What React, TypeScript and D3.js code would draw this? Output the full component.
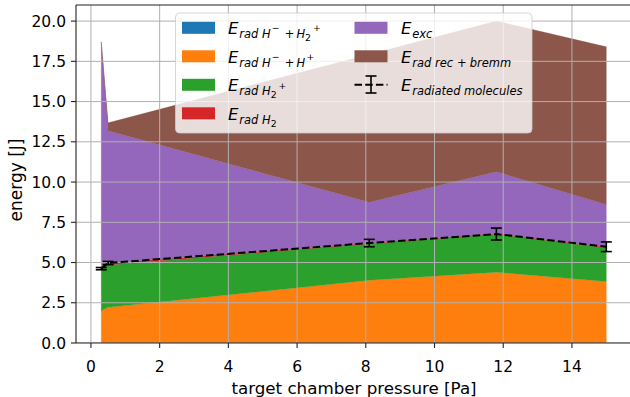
import React from 'react';
import * as d3 from 'd3';

// Target chamber pressure [Pa]
const pressure = [0.3, 0.5, 8.1, 11.8, 15.0];

// Radiated energy contributions [J], stacked bottom to top
const eRadHmH2p = [0, 0, 0, 0, 0];
const eRadHmHp = [2.0, 2.22, 3.9, 4.4, 3.82];
const eRadH2p = [2.58, 2.63, 2.27, 2.37, 2.1];
const eRadH2 = [0.05, 0.1, 0.05, 0.05, 0.05];
const eExc = [14.07, 8.24, 2.52, 3.82, 2.63];
const eRecBremm = [0, 0.49, 9.19, 9.36, 9.8];

// Total energy radiated by molecules with its uncertainty [J]
const radMolMean = [4.62, 4.97, 6.21, 6.77, 5.98];
const radMolErr = [0.07, 0.1, 0.23, 0.37, 0.3];

const xTicks = [0, 2, 4, 6, 8, 10, 12, 14];
const yTicks = [0, 2.5, 5, 7.5, 10, 12.5, 15, 17.5, 20];
const yTickLabels = ['0.0', '2.5', '5.0', '7.5', '10.0', '12.5', '15.0', '17.5', '20.0'];

const seriesKeys = ['hmh2p', 'hmhp', 'h2p', 'h2', 'exc', 'recbremm'];
const seriesColors = ['#1f77b4', '#ff7f0e', '#2ca02c', '#d62728', '#9467bd', '#8c564b'];

const W = 630;
const H = 397;
const plotLeft = 76;
const plotTop = 5;
const plotBottom = 343;
const xMin = -0.435;
const xMax = 15.735;
const pxPerUnit = 34.357;

const FONT = 'DejaVu Sans, sans-serif';

// token: [text, level, upright?, dx?]
// level: 0 main, 1 subscript, 2 superscript of subscript, 3 subscript of subscript
type Tok = [string, number, boolean?, number?];

const levelSize = [16.5, 11.5, 9.3, 9.3];
const levelShift = [0, 4.3, -2.6, 7];

function MathLabel({ x, y, toks }: { x: number; y: number; toks: Tok[] }) {
  let prev = 0;
  return (
    <text x={x} y={y} fontFamily={FONT} fill="#000">
      {toks.map(([t, lvl, upright, dx], i) => {
        const dy = levelShift[lvl] - prev;
        prev = levelShift[lvl];
        return (
          <tspan
            key={i}
            dy={dy}
            dx={dx || 0}
            fontSize={levelSize[lvl]}
            fontStyle={upright ? 'normal' : 'italic'}
            style={{ whiteSpace: 'pre' }}
          >
            {t}
          </tspan>
        );
      })}
    </text>
  );
}

const legendCol1: { color: string; toks: Tok[] }[] = [
  {
    color: seriesColors[0],
    toks: [
      ['E', 0], ['rad H', 1, false, 0.8], ['\u2212', 2, true, 1.2], ['+', 1, true, 5.2],
      ['H', 1, false, 2], ['2', 3, true], ['+', 2, true, 2],
    ],
  },
  {
    color: seriesColors[1],
    toks: [
      ['E', 0], ['rad H', 1, false, 0.8], ['\u2212', 2, true, 1.2], ['+', 1, true, 5.2],
      ['H', 1, false, 2], ['+', 2, true, 1.5],
    ],
  },
  {
    color: seriesColors[2],
    toks: [['E', 0], ['rad H', 1, false, 0.8], ['2', 3, true], ['+', 2, true, 2]],
  },
  {
    color: seriesColors[3],
    toks: [['E', 0], ['rad H', 1, false, 0.8], ['2', 3, true]],
  },
];

const legendCol2: { color: string; toks: Tok[] }[] = [
  { color: seriesColors[4], toks: [['E', 0], ['exc', 1, false, 0.8]] },
  {
    color: seriesColors[5],
    toks: [['E', 0], ['rad rec', 1, false, 0.8], ['+', 1, true, 4], ['bremm', 1, false, 3]],
  },
];

export default function App() {
  const x = d3
    .scaleLinear()
    .domain([xMin, xMax])
    .range([plotLeft, plotLeft + (xMax - xMin) * pxPerUnit]);
  const y = d3.scaleLinear().domain([0, 21]).range([plotBottom, plotTop]);

  const rows = pressure.map((p, i) => ({
    p,
    hmh2p: eRadHmH2p[i],
    hmhp: eRadHmHp[i],
    h2p: eRadH2p[i],
    h2: eRadH2[i],
    exc: eExc[i],
    recbremm: eRecBremm[i],
  }));
  const stacked = d3.stack<any>().keys(seriesKeys)(rows);
  const area = d3
    .area<any>()
    .x((d) => x(d.data.p))
    .y0((d) => y(d[0]))
    .y1((d) => y(d[1]));

  const dashed = d3
    .line<number>()
    .x((_, i) => x(pressure[i]))
    .y((d) => y(d));

  const right = W + 2;
  const cap = 5.5;

  return (
    <svg
      width={W}
      height={H}
      style={{ position: 'absolute', left: 0, top: 0, display: 'block', background: '#fff' }}
    >
      <defs>
        <clipPath id="plotArea">
          <rect x={plotLeft} y={plotTop} width={right - plotLeft} height={plotBottom - plotTop} />
        </clipPath>
      </defs>

      <g clipPath="url(#plotArea)">
        {stacked.map((s, i) => (
          <path key={s.key} d={area(s) || ''} fill={seriesColors[i]} stroke={seriesColors[i]} strokeWidth={0.3} />
        ))}

        {/* grid */}
        {xTicks.map((t) => (
          <line key={'gx' + t} x1={x(t)} x2={x(t)} y1={plotTop} y2={plotBottom} stroke="#b0b0b0" strokeWidth={1} />
        ))}
        {yTicks.map((t) => (
          <line key={'gy' + t} x1={plotLeft} x2={right} y1={y(t)} y2={y(t)} stroke="#b0b0b0" strokeWidth={1} />
        ))}

        {/* radiated molecules with error bars */}
        <path d={dashed(radMolMean) || ''} fill="none" stroke="#000" strokeWidth={2} strokeDasharray="7.5 3.2" />
        {pressure.map((p, i) => {
          const cx = x(p);
          const yt = y(radMolMean[i] + radMolErr[i]);
          const yb = y(radMolMean[i] - radMolErr[i]);
          return (
            <g key={'eb' + i} stroke="#000" strokeWidth={1.6}>
              <line x1={cx} x2={cx} y1={yt} y2={yb} />
              <line x1={cx - cap} x2={cx + cap} y1={yt} y2={yt} />
              <line x1={cx - cap} x2={cx + cap} y1={yb} y2={yb} />
            </g>
          );
        })}
      </g>

      {/* spines */}
      <line x1={plotLeft} x2={plotLeft} y1={plotTop} y2={plotBottom} stroke="#222" strokeWidth={1.1} />
      <line x1={plotLeft} x2={right} y1={plotBottom} y2={plotBottom} stroke="#222" strokeWidth={1.1} />
      <line x1={plotLeft} x2={right} y1={plotTop} y2={plotTop} stroke="#222" strokeWidth={1.1} />

      {/* ticks */}
      {xTicks.map((t) => (
        <g key={'tx' + t}>
          <line x1={x(t)} x2={x(t)} y1={plotBottom} y2={plotBottom + 5} stroke="#222" strokeWidth={1.1} />
          <text x={x(t)} y={plotBottom + 29} textAnchor="middle" fontFamily={FONT} fontSize={15.5} fill="#000">
            {t}
          </text>
        </g>
      ))}
      {yTicks.map((t, i) => (
        <g key={'ty' + t}>
          <line x1={plotLeft - 5} x2={plotLeft} y1={y(t)} y2={y(t)} stroke="#222" strokeWidth={1.1} />
          <text
            x={plotLeft - 10}
            y={y(t)}
            dy="0.36em"
            textAnchor="end"
            fontFamily={FONT}
            fontSize={15.5}
            fill="#000"
          >
            {yTickLabels[i]}
          </text>
        </g>
      ))}

      {/* axis labels */}
      <text x={354} y={394} textAnchor="middle" fontFamily={FONT} fontSize={16.7} fill="#000">
        target chamber pressure [Pa]
      </text>
      <text
        transform={`translate(22, 180) rotate(-90)`}
        textAnchor="middle"
        fontFamily={FONT}
        fontSize={17}
        fill="#000"
      >
        energy [J]
      </text>

      {/* legend */}
      <rect x={175.5} y={13} width={356.5} height={120} rx={4} fill="#fff" fillOpacity={0.8} stroke="#cccccc" strokeOpacity={0.8} />
      {legendCol1.map((e, i) => {
        const cy = 27.8 + i * 28.5;
        return (
          <g key={'l1' + i}>
            <rect x={182} y={cy - 6} width={33} height={12} fill={e.color} />
            <MathLabel x={228} y={cy + 6.3} toks={e.toks} />
          </g>
        );
      })}
      {legendCol2.map((e, i) => {
        const cy = 27.8 + i * 28.5;
        return (
          <g key={'l2' + i}>
            <rect x={354.5} y={cy - 6} width={33} height={12} fill={e.color} />
            <MathLabel x={401} y={cy + 6.3} toks={e.toks} />
          </g>
        );
      })}
      <g stroke="#000" strokeWidth={1.6}>
        <line x1={354.5} x2={387.5} y1={84.8} y2={84.8} strokeWidth={2} strokeDasharray="7.5 3.2" />
        <line x1={371} x2={371} y1={76} y2={93} />
        <line x1={371 - cap} x2={371 + cap} y1={76} y2={76} />
        <line x1={371 - cap} x2={371 + cap} y1={93} y2={93} />
      </g>
      <MathLabel x={401} y={84.8 + 6.3} toks={[['E', 0], ['radiated molecules', 1, false, 0.8]]} />
    </svg>
  );
}
